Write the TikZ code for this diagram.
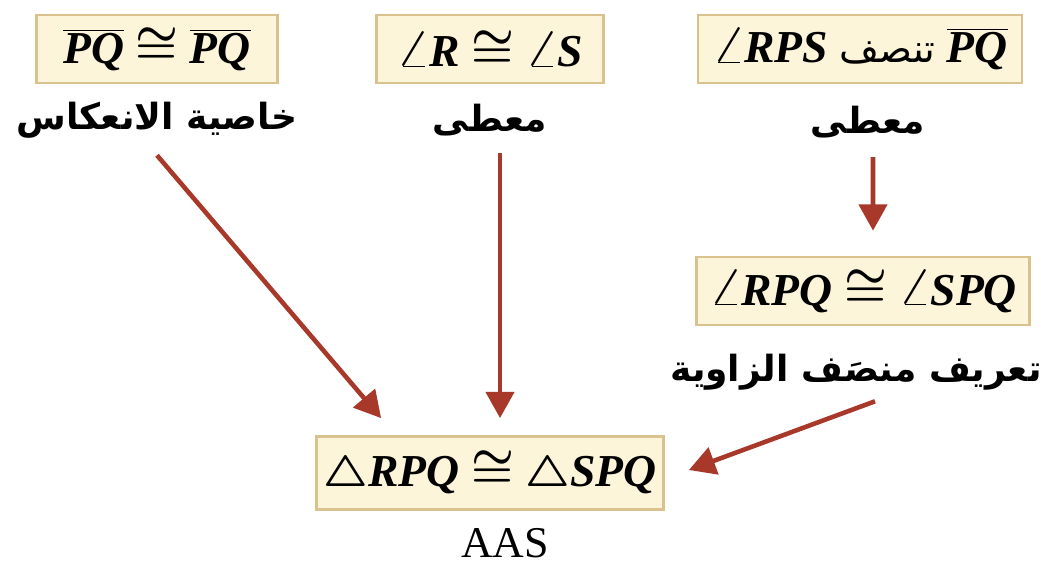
\documentclass[tikz,border=0pt]{standalone}
\usepackage{fontspec}
\setmainfont{Liberation Serif}
\newfontfamily\arabicfont[Script=Arabic]{DejaVu Sans}
\TeXXeTstate=1
\usetikzlibrary{arrows.meta,positioning}
\definecolor{boxfill}{HTML}{FCF5DA}
\definecolor{boxline}{HTML}{D9C28E}
\definecolor{arrowred}{HTML}{A8382A}
\newcommand{\arabtxt}[1]{{\arabicfont\beginR #1\endR}}
\newcommand{\seg}[1]{$\overline{\mbox{\textbf{\textit{#1}}}}$}
\newcommand{\mi}[1]{\textbf{\textit{#1}}}
\newcommand{\ang}{\scalebox{1.25}{\boldmath$\angle$}\kern-1pt}
\newcommand{\cng}{\scalebox{1.1}{\boldmath$\cong$}}
\newcommand{\tri}{{\boldmath$\triangle$}}
\tikzset{
  stmt/.style={draw=boxline,fill=boxfill,line width=1.6pt,minimum height=1.36cm,inner xsep=4pt,font=\fontsize{26}{30}\selectfont},
  reason/.style={font=\fontsize{20.5}{24}\selectfont\bfseries},
  arr/.style={draw=arrowred,line width=2.6pt,-{Triangle[length=15pt,width=16pt]}},
}
\begin{document}
\begin{tikzpicture}[x=0.02cm,y=-0.02cm]
  \useasboundingbox (0,0) rectangle (1041,566);
  % top row
  \node[stmt,minimum width=4.82cm] (refl) at (157,49) {\seg{PQ} \cng{} \seg{PQ}};
  \node[reason] (reflr) at (157,120) {\arabtxt{خاصية الانعكاس}};
  \node[stmt,minimum width=4.54cm] (given) at (490,49) {\ang\mi{R} \cng{} \ang\mi{S}};
  \node[reason] (givenr) at (490,120) {\arabtxt{معطى}};
  \node[stmt,minimum width=6.48cm] (bis) at (860,49) {\ang\mi{RPS} {\fontsize{22}{26}\selectfont\arabtxt{تنصف}} \seg{PQ}};
  \node[reason] (bisr) at (868,122) {\arabtxt{معطى}};
  % middle and bottom
  \node[stmt,minimum width=6.66cm] (angs) at (863,291) {\ang\mi{RPQ} \cng{} \ang\mi{SPQ}};
  \node[reason] (angsr) at (856,372) {\arabtxt{تعريف منصَف الزاوية}};
  \node[stmt,minimum width=6.94cm,minimum height=1.46cm] (tris) at (490,473) {\tri\mi{RPQ} \cng{} \tri\mi{SPQ}};
  \node[font=\fontsize{25}{28}\selectfont] (aas) at (505,543) {AAS};
  % arrows
  \draw[arr] ([yshift=-0.22cm]reflr.south) -- ([xshift=1.32cm,yshift=0.34cm]tris.north west);
  \draw[arr] ([xshift=0.2cm,yshift=-0.22cm]givenr.south) -- ([xshift=0.2cm,yshift=0.34cm]tris.north);
  \draw[arr] ([xshift=0.1cm,yshift=-0.26cm]bisr.south) -- ([xshift=0.2cm,yshift=0.5cm]angs.north);
  \draw[arr] ([xshift=0.38cm,yshift=-0.1cm]angsr.south) -- ([xshift=0.48cm,yshift=0.06cm]tris.east);
\end{tikzpicture}
\end{document}
